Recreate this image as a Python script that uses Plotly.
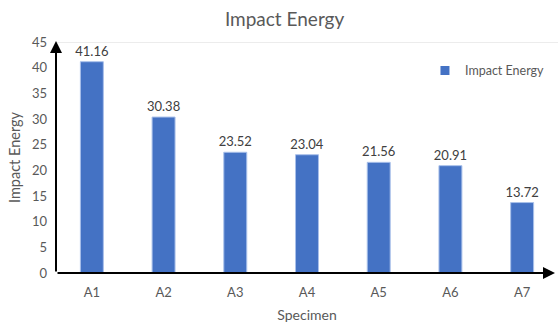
import plotly.graph_objects as go

specimens = ["A1", "A2", "A3", "A4", "A5", "A6", "A7"]
impact_energy = [41.16, 30.38, 23.52, 23.04, 21.56, 20.91, 13.72]
y_ticks = [0, 5, 10, 15, 20, 25, 30, 35, 40, 45]

FONT = "Lato, Open Sans, sans-serif"
GREY = "#595959"

fig = go.Figure()
fig.add_trace(go.Bar(
    x=specimens,
    y=impact_energy,
    name="Impact Energy",
    marker=dict(color="#4472C4", line=dict(color="#A9C0EA", width=1)),
    text=[f"{v:.2f}" for v in impact_energy],
    textposition="outside",
    constraintext="none",
    textfont=dict(family=FONT, size=13, color="#404040"),
    cliponaxis=False,
    showlegend=False,
))
# legend entry shown as a small square swatch
fig.add_trace(go.Scatter(
    x=[None], y=[None], mode="markers", name="Impact Energy",
    marker=dict(symbol="square", size=9, color="#4472C4"),
))

fig.update_layout(
    width=558, height=324,
    margin=dict(l=56, r=0, t=42, b=51, autoexpand=False),
    paper_bgcolor="white", plot_bgcolor="white",
    bargap=0.68,
    title=dict(text="Impact Energy", x=0.51, xanchor="center", y=0.94, yanchor="middle",
               font=dict(family=FONT, size=19, color=GREY)),
    font=dict(family=FONT, color=GREY),
    legend=dict(x=0.735, y=0.875, xanchor="left", yanchor="middle",
                font=dict(family=FONT, size=12.5, color=GREY),
                bgcolor="rgba(0,0,0,0)", itemwidth=30),
    xaxis=dict(
        showline=False, showgrid=False, ticks="", ticklabelstandoff=10,
        tickfont=dict(family=FONT, size=13, color=GREY),
        title=dict(text="Specimen", font=dict(family=FONT, size=14, color=GREY), standoff=11),
    ),
    yaxis=dict(
        range=[0, 45], tickvals=y_ticks, showgrid=False, zeroline=False, showline=False,
        ticks="", ticklabelstandoff=8,
        tickfont=dict(family=FONT, size=13, color=GREY),
        title=dict(text="Impact Energy", font=dict(family=FONT, size=14.5, color=GREY), standoff=7),
    ),
)

# light line across the top of the value range
fig.add_shape(type="line", xref="x domain", yref="y", x0=0, x1=1, y0=45, y1=45,
              line=dict(color="#D9D9D9", width=1), layer="below")

# axis lines with arrowheads
fig.add_annotation(xref="x domain", yref="y", x=0, y=45.2, axref="x domain", ayref="y",
                   ax=0, ay=0, showarrow=True, arrowhead=2, arrowsize=1.2,
                   arrowwidth=2, arrowcolor="black", text="")
fig.add_annotation(xref="x domain", yref="y", x=0.994, y=0, axref="x domain", ayref="y",
                   ax=0, ay=0, showarrow=True, arrowhead=2, arrowsize=1.2,
                   arrowwidth=2, arrowcolor="black", text="")

fig.write_html("out.html")
